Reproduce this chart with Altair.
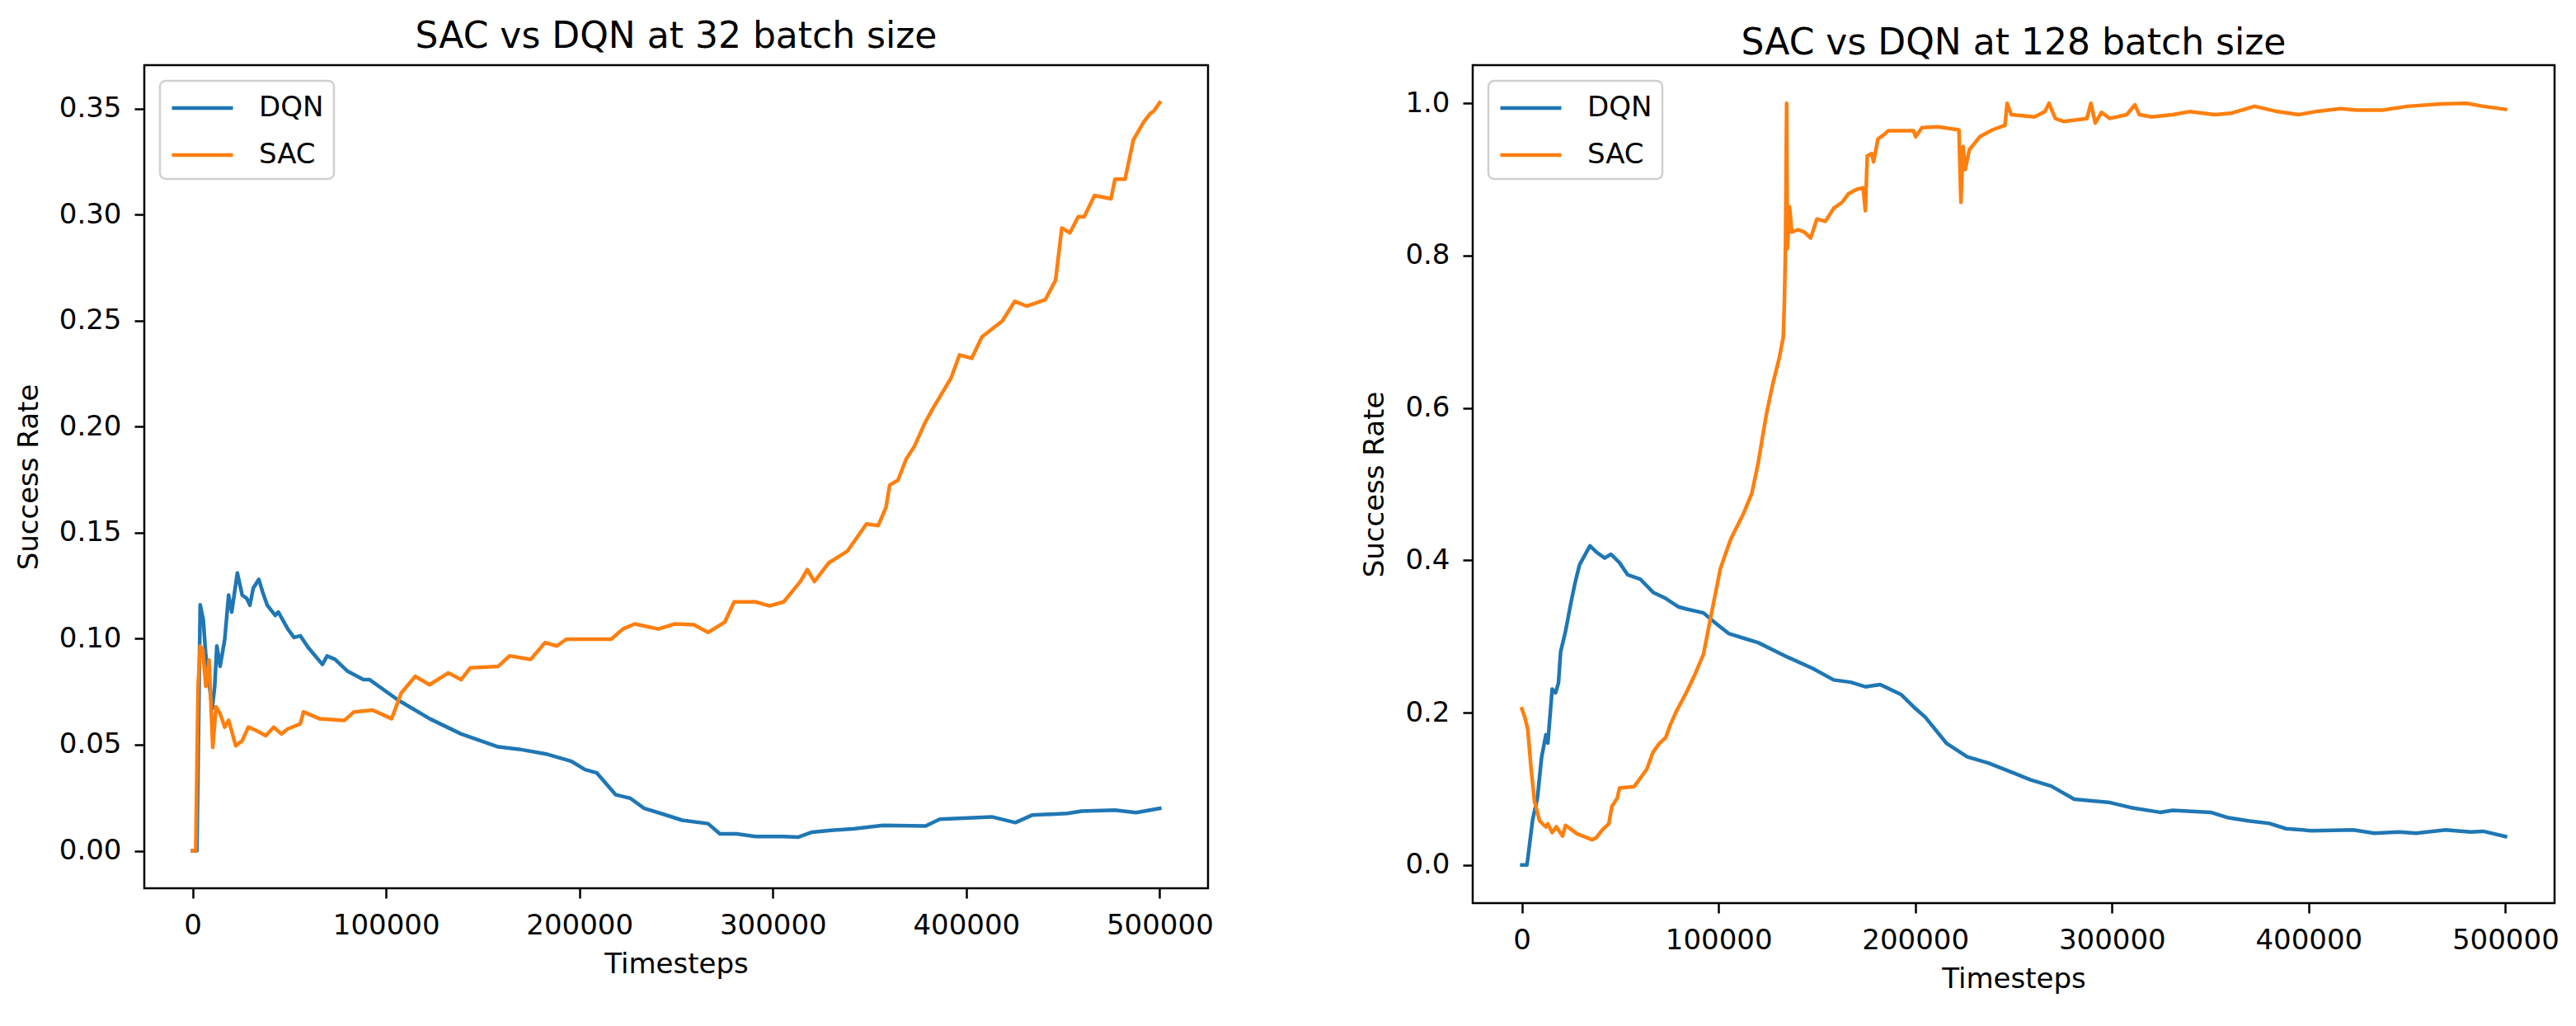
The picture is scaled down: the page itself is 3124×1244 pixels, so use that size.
import altair as alt
import pandas as pd

# (timestep, success rate)
dqn_32 = [
    (0, 0.0), (2200, 0.0), (3900, 0.116), (5500, 0.109), (6800, 0.092), (10100, 0.067),
    (11400, 0.0775), (12500, 0.0966), (14200, 0.087), (16600, 0.0998), (18600, 0.1206),
    (20200, 0.1126), (23100, 0.131), (25600, 0.1206), (28000, 0.119), (29600, 0.1158),
    (31300, 0.1238), (34200, 0.128), (36200, 0.122), (38600, 0.1158), (42700, 0.111),
    (44300, 0.1126), (49200, 0.1046), (52400, 0.1006), (55700, 0.1014), (59800, 0.0958),
    (67100, 0.0879), (69500, 0.0919), (73600, 0.0903), (80100, 0.0847), (88300, 0.0807),
    (91500, 0.0807), (106200, 0.0711), (122500, 0.0623), (138800, 0.0551), (158000, 0.049),
    (168700, 0.0479), (183400, 0.0455), (195600, 0.0423), (202900, 0.0383), (209000, 0.0367),
    (218800, 0.0264), (226200, 0.0248), (233500, 0.020), (242100, 0.0176), (253100, 0.0144),
    (266500, 0.0128), (272600, 0.008), (281200, 0.008), (291000, 0.0067), (305600, 0.0067),
    (313000, 0.0064), (320300, 0.0088), (330100, 0.0096), (342300, 0.0104), (357000, 0.012),
    (379000, 0.0117), (386300, 0.0149), (413200, 0.016), (425400, 0.0133), (434000, 0.0168),
    (452300, 0.0176), (459600, 0.0187), (476800, 0.0192), (487800, 0.018), (500000, 0.020),
]
sac_32 = [
    (0, 0.0), (1600, 0.0), (2800, 0.0775), (3900, 0.0966), (5200, 0.095), (6800, 0.0775),
    (8500, 0.09), (10400, 0.0487), (12100, 0.0679), (14200, 0.0647), (16600, 0.0583),
    (18600, 0.0615), (22300, 0.0495), (25600, 0.0519), (28800, 0.0583), (32900, 0.0567),
    (37800, 0.0543), (41900, 0.0583), (45900, 0.0551), (49200, 0.0575), (55700, 0.0599),
    (57300, 0.0655), (65500, 0.0623), (78500, 0.0615), (83400, 0.0655), (93200, 0.0663),
    (102900, 0.0623), (107800, 0.0743), (115100, 0.0823), (122500, 0.0783), (132200, 0.0839),
    (138800, 0.0807), (143600, 0.0863), (158000, 0.087), (163800, 0.0919), (174800, 0.0903),
    (182200, 0.0982), (188300, 0.0966), (193200, 0.0998), (216400, 0.0998), (222500, 0.1046),
    (228600, 0.107), (240800, 0.1046), (249400, 0.107), (259200, 0.1066), (266500, 0.103),
    (275100, 0.1078), (280000, 0.1174), (291000, 0.1174), (298300, 0.1155), (305600, 0.1174),
    (314200, 0.127), (317800, 0.1326), (321500, 0.127), (328900, 0.1358), (338600, 0.1414),
    (348400, 0.1542), (354500, 0.1534), (358500, 0.162), (360400, 0.1725), (364700, 0.1748),
    (368900, 0.1847), (373200, 0.1908), (378500, 0.2016), (382700, 0.2086), (392200, 0.2231),
    (396500, 0.2339), (402800, 0.2323), (408100, 0.2424), (418700, 0.25), (425100, 0.2592),
    (431400, 0.2569), (440900, 0.26), (446200, 0.2692), (449400, 0.2938), (453600, 0.2915),
    (457900, 0.2991), (461000, 0.2991), (466300, 0.3091), (474800, 0.3076), (476900, 0.3168),
    (482100, 0.3168), (486400, 0.3353), (491700, 0.3437), (494900, 0.3475), (497000, 0.349),
    (500000, 0.3529),
]
dqn_128 = [
    (0, 0.0), (2600, 0.0), (5500, 0.06), (7900, 0.088), (10000, 0.141), (12200, 0.171),
    (13200, 0.160), (15400, 0.231), (17100, 0.226), (18600, 0.239), (19700, 0.280),
    (22200, 0.307), (25000, 0.345), (27100, 0.371), (29300, 0.394), (34600, 0.419),
    (37800, 0.411), (42100, 0.403), (45300, 0.408), (49600, 0.397), (53800, 0.381),
    (60300, 0.375), (66700, 0.358), (73100, 0.350), (79500, 0.339), (83800, 0.336),
    (92300, 0.331), (98700, 0.317), (105100, 0.304), (113700, 0.297), (120100, 0.292),
    (135000, 0.273), (147900, 0.258), (158500, 0.243), (167100, 0.240), (174600, 0.234),
    (182100, 0.237), (192700, 0.224), (199000, 0.208), (205100, 0.194), (215800, 0.160),
    (226400, 0.142), (237100, 0.134), (249900, 0.121), (258400, 0.112), (269100, 0.1036),
    (280800, 0.0865), (299000, 0.082), (309600, 0.0754), (324500, 0.0692), (330900, 0.0718),
    (350100, 0.0692), (358600, 0.0624), (369300, 0.058), (380000, 0.0546), (388500, 0.0477),
    (401300, 0.0451), (422600, 0.046), (433300, 0.0417), (446100, 0.0434), (454600, 0.0417),
    (469500, 0.046), (482300, 0.0434), (488700, 0.0443), (500000, 0.0374),
]
sac_128 = [
    (0, 0.205), (1500, 0.194), (3000, 0.178), (4700, 0.126), (6400, 0.084), (9000, 0.058),
    (12200, 0.050), (13200, 0.054), (15400, 0.0426), (17500, 0.0502), (20700, 0.0381),
    (22200, 0.0521), (28200, 0.0408), (35700, 0.0332), (37800, 0.0358), (41000, 0.0464),
    (44200, 0.054), (45700, 0.0766), (48500, 0.0879), (49600, 0.1011), (57100, 0.103),
    (63500, 0.1257), (66700, 0.1483), (69900, 0.1596), (73100, 0.1672), (75200, 0.1823),
    (78400, 0.2011), (83800, 0.2275), (88000, 0.2502), (92300, 0.2766), (96600, 0.3332),
    (100900, 0.389), (106200, 0.428), (112600, 0.461), (116900, 0.488), (120100, 0.527),
    (122200, 0.560), (124400, 0.593), (127600, 0.632), (130800, 0.665), (132900, 0.693),
    (133500, 0.743), (134000, 0.809), (134600, 1.0), (135000, 0.809), (136100, 0.864),
    (137200, 0.831), (140400, 0.834), (143600, 0.831), (146800, 0.823), (150000, 0.848),
    (154300, 0.845), (158500, 0.862), (162800, 0.870), (166000, 0.881), (170300, 0.887),
    (173500, 0.889), (174600, 0.859), (175600, 0.931), (177800, 0.934), (178800, 0.923),
    (181000, 0.953), (184200, 0.959), (186300, 0.964), (199100, 0.964), (200200, 0.956),
    (203400, 0.968), (211500, 0.969), (222200, 0.965), (223200, 0.870), (224300, 0.943),
    (225400, 0.913), (227500, 0.939), (232800, 0.956), (239200, 0.965), (245600, 0.971),
    (246700, 1.0), (248800, 0.985), (260600, 0.982), (265900, 0.989), (268000, 1.0),
    (271200, 0.980), (275500, 0.976), (287200, 0.980), (289300, 1.0), (291500, 0.974),
    (294700, 0.988), (298900, 0.980), (307500, 0.985), (311700, 0.998), (313900, 0.985),
    (320300, 0.982), (330900, 0.985), (339400, 0.989), (352200, 0.985), (360800, 0.987),
    (372500, 0.996), (384200, 0.989), (394900, 0.985), (403400, 0.989), (416200, 0.993),
    (424700, 0.991), (437500, 0.991), (450300, 0.996), (467300, 0.999), (480100, 1.0),
    (488700, 0.996), (500000, 0.992),
]

algos = ["DQN", "SAC"]
colors = ["#1f77b4", "#ff7f0e"]
x_ticks = [0, 100000, 200000, 300000, 400000, 500000]
y_ticks_32 = [0.0, 0.05, 0.10, 0.15, 0.20, 0.25, 0.30, 0.35]
y_ticks_128 = [0.0, 0.2, 0.4, 0.6, 0.8, 1.0]


def to_frame(dqn, sac):
    rows = [(s, r, "DQN") for s, r in dqn] + [(s, r, "SAC") for s, r in sac]
    return pd.DataFrame(rows, columns=["Timesteps", "Success Rate", "algo"])


def panel(df, title, y_domain, y_ticks, y_fmt, w, h, title_offset):
    return alt.Chart(df).mark_line(
        strokeWidth=4.5, strokeJoin="round", strokeCap="square"
    ).encode(
        x=alt.X("Timesteps:Q",
                scale=alt.Scale(domain=[-25000, 525000], nice=False, zero=False),
                axis=alt.Axis(values=x_ticks, format="d", title="Timesteps")),
        y=alt.Y("Success Rate:Q",
                scale=alt.Scale(domain=y_domain, nice=False, zero=False),
                axis=alt.Axis(values=y_ticks, format=y_fmt, title="Success Rate")),
        color=alt.Color("algo:N",
                        scale=alt.Scale(domain=algos, range=colors),
                        legend=alt.Legend(title=None, orient="top-left")),
    ).properties(
        width=w, height=h,
        title=alt.TitleParams(title, offset=title_offset, baseline="alphabetic"),
    )


left = panel(to_frame(dqn_32, sac_32), "SAC vs DQN at 32 batch size",
             [-0.0177, 0.3706], y_ticks_32, ".2f", 1290, 998, -23)
right = panel(to_frame(dqn_128, sac_128), "SAC vs DQN at 128 batch size",
              [-0.05, 1.05], y_ticks_128, ".1f", 1312, 1016, -31)

chart = alt.hconcat(left, right, spacing=176).resolve_legend(
    color="independent"
).properties(
    padding={"left": 9, "top": 13, "right": 2, "bottom": 5}
).configure(
    font="DejaVu Sans"
).configure_view(
    stroke="black", strokeWidth=2.5
).configure_axis(
    domain=False, grid=False,
    tickColor="black", tickWidth=2.5, tickSize=12,
    labelFont="DejaVu Sans", labelFontSize=34, labelColor="black",
    labelPadding=16, labelFlush=False,
    titleFont="DejaVu Sans", titleFontSize=34, titleFontWeight="normal", titleColor="black",
).configure_axisX(
    titlePadding=13
).configure_axisY(
    titlePadding=19
).configure_title(
    font="DejaVu Sans", fontSize=44, fontWeight="normal", color="black", anchor="middle"
).configure_legend(
    offset=19, padding=12, cornerRadius=7,
    fillColor="rgba(255,255,255,0.8)", strokeColor="#d0d0d0", strokeWidth=2.5,
    symbolType="M-1,0H3", symbolSize=1369, symbolStrokeWidth=4.5,
    labelFont="DejaVu Sans", labelFontSize=34, labelColor="black",
    labelOffset=66, rowPadding=19,
)

chart.save("out.html", embed_options={"renderer": "svg", "actions": False})
